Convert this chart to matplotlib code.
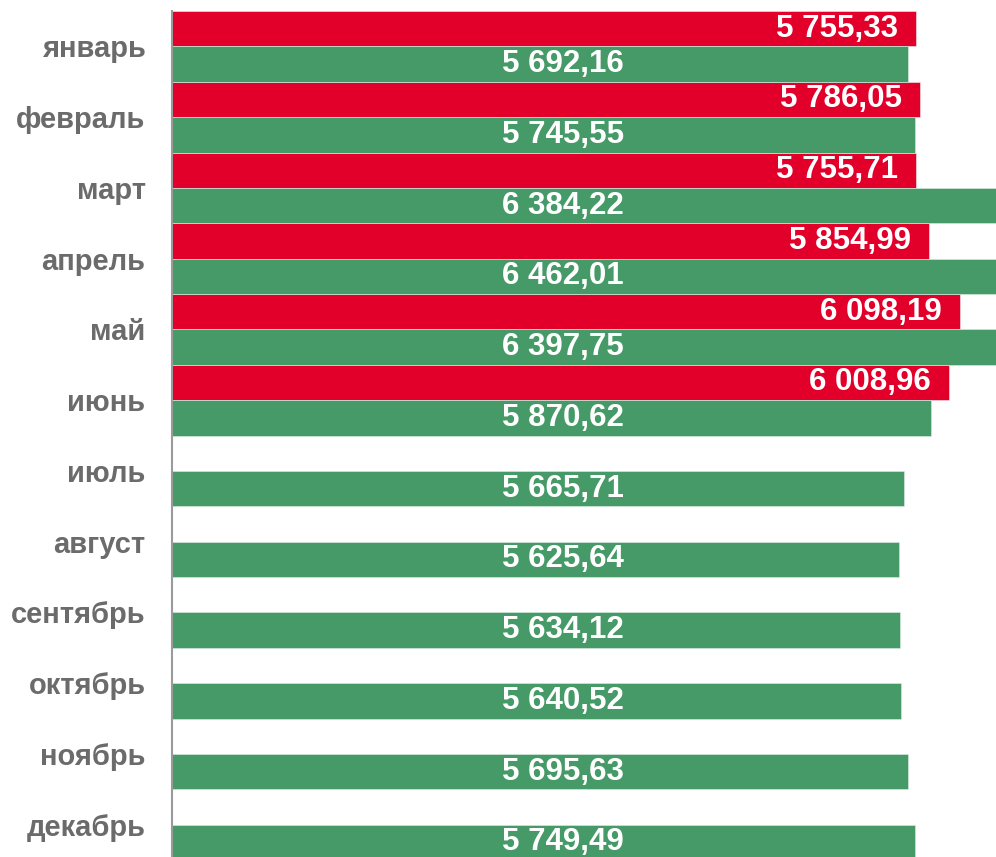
import matplotlib.pyplot as plt
import numpy as np

months = ['январь', 'февраль', 'март', 'апрель', 'май', 'июнь',
          'июль', 'август', 'сентябрь', 'октябрь', 'ноябрь', 'декабрь']
red_vals = [5755.33, 5786.05, 5755.71, 5854.99, 6098.19, 6008.96]
green_vals = [5692.16, 5745.55, 6384.22, 6462.01, 6397.75, 5870.62,
              5665.71, 5625.64, 5634.12, 5640.52, 5695.63, 5749.49]

red_col = '#E2002A'
green_col = '#459A67'

def fmt(v):
    # "5 755,33" style
    s = f'{v:,.2f}'
    return s.replace(',', ' ').replace('.', ',')

plt.rcParams['font.family'] = ['Liberation Sans', 'DejaVu Sans']

fig = plt.figure(figsize=(9.96, 8.57), dpi=100)
ax = fig.add_axes([172 / 996, -3 / 857, 824 / 996, 849 / 857])

y = np.arange(len(months))
ax.barh(y[:len(red_vals)] - 0.25, red_vals, height=0.5, color=red_col,
        edgecolor='#f2f2f2', linewidth=0.4)
ax.barh(y + 0.25, green_vals, height=0.5, color=green_col,
        edgecolor='#dfeee5', linewidth=0.4)

ax.set_xlim(0, 6375)
ax.set_ylim(len(months) - 0.5, -0.5)

# value labels
for i, v in enumerate(red_vals):
    ax.text(v - 140, i - 0.25, fmt(v), ha='right', va='center', color='white',
            fontsize=22.5, fontweight='bold')
for i, v in enumerate(green_vals):
    ax.text(3025, i + 0.25, fmt(v), ha='center', va='center', color='white',
            fontsize=22.5, fontweight='bold')

ax.set_yticks(y)
ax.set_yticklabels(months, fontsize=21, fontweight='bold', color='#6b6b6b')
ax.tick_params(axis='y', length=0, pad=19)
ax.set_xticks([])

for sp in ['top', 'right', 'bottom']:
    ax.spines[sp].set_visible(False)
ax.spines['left'].set_color('#9a9a9a')
ax.spines['left'].set_linewidth(1.5)

fig.savefig('out.png', dpi=100)
